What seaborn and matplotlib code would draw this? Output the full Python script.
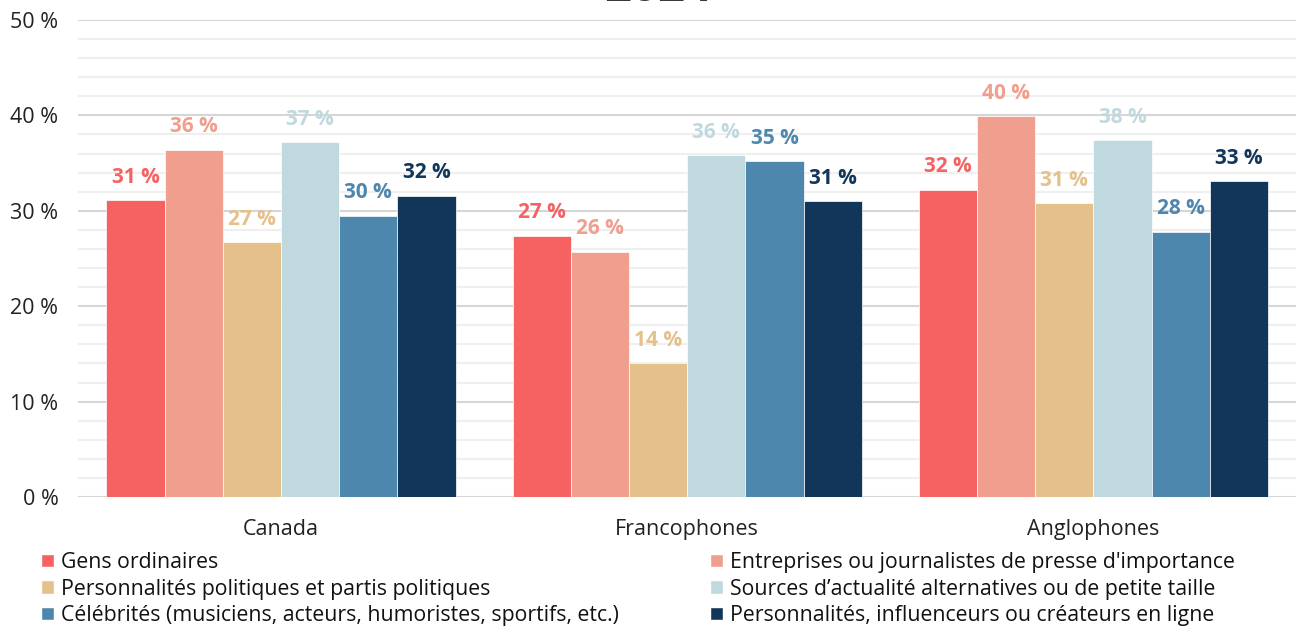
import pandas as pd
import matplotlib.pyplot as plt
import seaborn as sns
from matplotlib.patches import Patch

# ---------- data ----------
groups = ["Canada", "Francophones", "Anglophones"]
sources = [
    "Gens ordinaires",
    "Entreprises ou journalistes de presse d'importance",
    "Personnalités politiques et partis politiques",
    "Sources d’actualité alternatives ou de petite taille",
    "Célébrités (musiciens, acteurs, humoristes, sportifs, etc.)",
    "Personnalités, influenceurs ou créateurs en ligne",
]
canada = [31.1, 36.4, 26.7, 37.2, 29.5, 31.6]
francophones = [27.4, 25.7, 14.0, 35.8, 35.2, 31.0]
anglophones = [32.2, 39.9, 30.8, 37.4, 27.8, 33.1]
labels_canada = [31, 36, 27, 37, 30, 32]
labels_franco = [27, 26, 14, 36, 35, 31]
labels_anglo = [32, 40, 31, 38, 28, 33]
colors = ["#F66262", "#F09E8D", "#E4C08A", "#C0D9DE", "#4E87AE", "#12365A"]
yticks = [0, 10, 20, 30, 40, 50]

rows = []
for g, vals in zip(groups, [canada, francophones, anglophones]):
    for s, v in zip(sources, vals):
        rows.append({"groupe": g, "source": s, "valeur": v})
df = pd.DataFrame(rows)
labels = [labels_canada, labels_franco, labels_anglo]

sns.set_style("white")
plt.rcParams["font.family"] = ["Open Sans", "DejaVu Sans"]

fig = plt.figure(figsize=(12.99, 6.28), dpi=100)
ax = fig.add_axes([0.060, 0.2086, 0.938, 0.7596])

sns.barplot(data=df, x="groupe", y="valeur", hue="source", hue_order=sources,
            palette=colors, saturation=1, width=0.86, gap=0, ax=ax, legend=False,
            edgecolor="white", linewidth=0.5, err_kws={"linewidth": 0})

# value labels above bars
for i, cont in enumerate(ax.containers):
    txt = [f"{labels[j][i]} %" for j in range(len(groups))]
    ax.bar_label(cont, labels=txt, padding=9, color=colors[i],
                 fontsize=15, fontweight="bold")

ax.set_ylim(0, 50)
ax.set_xlim(-0.5, 2.5)
ax.set_yticks(yticks)
ax.set_yticklabels([f"{t} %" for t in yticks], fontsize=15.5, color="#222222")
ax.set_yticks(range(0, 51, 2), minor=True)
ax.grid(axis="y", which="minor", color="#efefef", linewidth=1.5)
ax.grid(axis="y", which="major", color="#d6d6d6", linewidth=1.5)
ax.set_axisbelow(True)
ax.tick_params(axis="y", length=0, pad=14)
ax.tick_params(axis="x", length=0, labelsize=15.5, labelcolor="#222222", pad=16)
ax.set_xlabel("")
ax.set_ylabel("")
for sp in ["top", "right", "left", "bottom"]:
    ax.spines[sp].set_visible(False)

# title mostly cut off at the top
fig.text(0.507, 1 - 1.2 / 628, "2024", ha="center", va="baseline",
         fontsize=34, fontweight="bold", color="#3a3a3a")

# legend in two columns
handles = [Patch(facecolor=c) for c in colors]
common = dict(frameon=False, fontsize=15.3, handlelength=0.62, handleheight=0.62,
              handletextpad=0.3, labelspacing=0.26, borderaxespad=0,
              borderpad=0, labelcolor="#111111")
fig.legend([handles[0], handles[2], handles[4]],
           [sources[0], sources[2], sources[4]],
           loc="upper left", bbox_to_anchor=(41 / 1299, 1 - 552 / 628), **common)
fig.legend([handles[1], handles[3], handles[5]],
           [sources[1], sources[3], sources[5]],
           loc="upper left", bbox_to_anchor=(710 / 1299, 1 - 552 / 628), **common)

fig.savefig("out.png", dpi=100)
